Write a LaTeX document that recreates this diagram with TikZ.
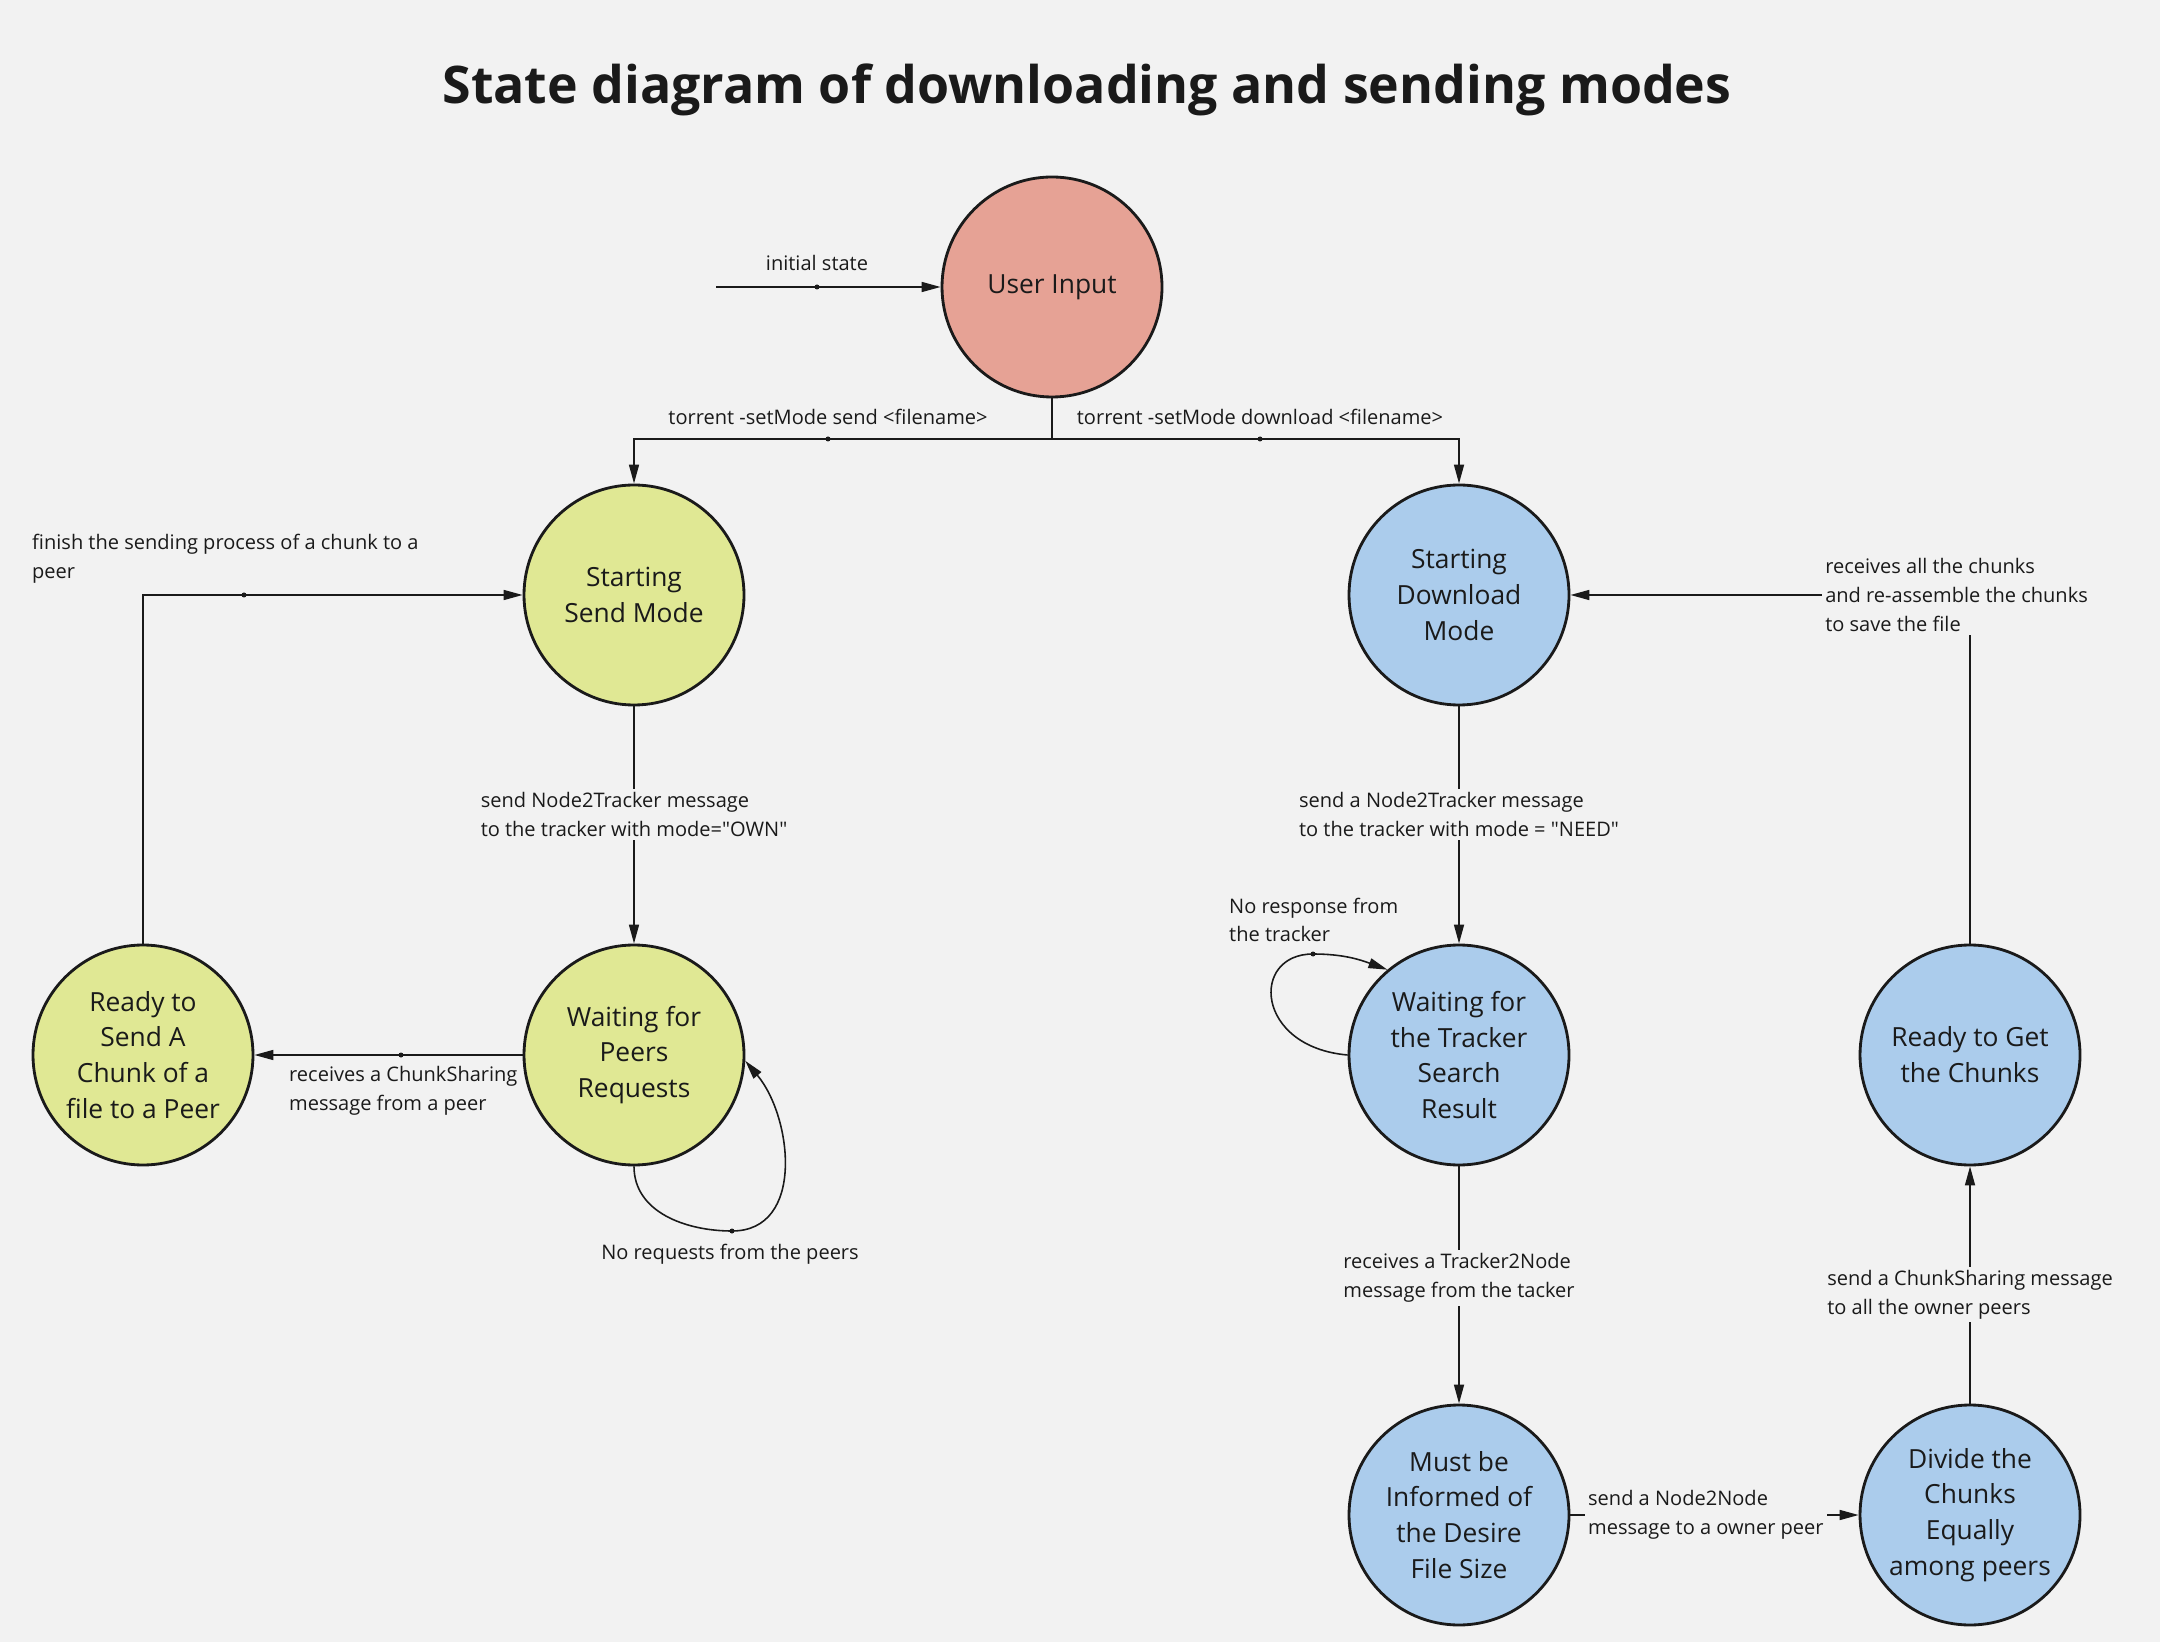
\documentclass[tikz,border=0pt]{standalone}
\usepackage{fontspec}
\setmainfont{Open Sans}
\usetikzlibrary{arrows.meta}

\definecolor{bg}{HTML}{F2F2F2}
\definecolor{ink}{HTML}{1A1A1A}
\definecolor{userfill}{HTML}{E6A295}
\definecolor{sendfill}{HTML}{E0E894}
\definecolor{downfill}{HTML}{ABCCEC}

\tikzstyle{state} = [circle, draw=ink, line width=0.8pt, text=ink,
    minimum size=2.2cm, inner sep=0pt, align=center,
    font=\fontsize{7.5}{10.2}\selectfont]
\tikzstyle{stuser} = [state, fill=userfill]
\tikzstyle{stsend} = [state, fill=sendfill]
\tikzstyle{stdown} = [state, fill=downfill]
\tikzstyle{lbl} = [text=ink, align=left, inner sep=1pt,
    font=\fontsize{5.7}{8.2}\selectfont]
\tikzstyle{cut} = [lbl, fill=bg]
\tikzstyle{dot} = [circle, fill=ink, inner sep=0pt, minimum size=0.5mm]
\tikzstyle{line} = [draw=ink, line width=0.45pt]
\tikzstyle{arr} = [line, -{Triangle[length=1.9mm,width=1mm]}]
\tikzstyle{title} = [text=ink, font=\fontsize{14.75}{18}\selectfont\bfseries]

\begin{document}
\begin{tikzpicture}
	\fill [bg] (0,0) rectangle (21.6,16.42);
	\useasboundingbox (0,0) rectangle (21.6,16.42);
	\node [title] (title) at (10.87,15.52) {State diagram of downloading and sending modes};
	%
	\node [stuser] (user) at (10.52,13.55) {User Input};
	\node [stsend] (sendm) at (6.34,10.47) {Starting\\Send Mode};
	\node [stdown] (downm) at (14.59,10.47) {Starting\\Download\\Mode};
	%
	\node [stsend] (readysend) at (1.43,5.87) {Ready to\\Send A\\Chunk of a\\file to a Peer};
	\node [stsend] (waitpeers) at (6.34,5.87) {Waiting for\\Peers\\Requests};
	\node [stdown] (waittracker) at (14.59,5.87) {Waiting for\\the Tracker\\Search\\Result};
	\node [stdown] (readyget) at (19.70,5.87) {Ready to Get\\the Chunks};
	%
	\node [stdown] (informed) at (14.59,1.27) {Must be\\Informed of\\the Desire\\File Size};
	\node [stdown] (divide) at (19.70,1.27) {Divide the\\Chunks\\Equally\\among peers};
	%
	\coordinate (start) at (7.16,13.55);
	\node [dot] (dinit) at (8.17,13.55) {};
	\node [dot] (dsend) at (8.28,12.03) {};
	\node [dot] (ddown) at (12.60,12.03) {};
	\node [dot] (dfinish) at (2.44,10.47) {};
	\node [dot] (dchunk) at (4.01,5.87) {};
	\node [dot] (dpeers) at (7.32,4.11) {};
	\node [dot] (dtracker) at (13.13,6.88) {};
	%
	\draw [arr] (start) -- (dinit.center) -- (user.west);
	\draw [arr] (user.south) |- (dsend.center) -| (sendm.north);
	\draw [arr] (user.south) |- (ddown.center) -| (downm.north);
	\draw [arr] (readysend.north) |- (dfinish.center) -- (sendm.west);
	\draw [arr] (waitpeers.west) -- (dchunk.center) -- (readysend.east);
	\draw [arr] (waitpeers.south) to [out=-90,in=180] (dpeers.center)
		to [out=0,in=-50,looseness=1.1] (waitpeers.-3);
	\draw [arr] (waittracker.west) .. controls (12.55,5.95) and (12.5,6.88) .. (dtracker.center)
		to [out=0,in=160] (waittracker.130);
	\draw [arr] (readyget.north) |- (downm.east);
	%
	\draw [arr] (sendm) -- node [cut, pos=0.456] (lown) {send Node2Tracker message\\to the tracker with mode=\textquotedbl OWN\textquotedbl} (waitpeers);
	\draw [arr] (downm) -- node [cut, pos=0.456] (lneed) {send a Node2Tracker message\\to the tracker with mode = \textquotedbl NEED\textquotedbl} (waittracker);
	\draw [arr] (waittracker) -- node [cut, pos=0.47] (lt2n) {receives a Tracker2Node\\message from the tacker} (informed);
	\draw [arr] (informed) -- node [cut, pos=0.47] (ln2n) {send a Node2Node\\message to a owner peer} (divide);
	\draw [arr] (divide) -- node [cut, pos=0.46] (lshare) {send a ChunkSharing message\\to all the owner peers} (readyget);
	%
	\node [lbl] (linit) at (8.17,13.79) {initial state};
	\node [lbl] (lsend) at (8.28,12.25) {torrent -setMode send <filename>};
	\node [lbl] (ldown) at (12.60,12.25) {torrent -setMode download <filename>};
	\node [lbl, anchor=west] (lfinish) at (0.28,10.835) {finish the sending process of a chunk to a\\peer};
	\node [lbl, anchor=west] (lchunk) at (2.85,5.515) {receives a ChunkSharing\\message from a peer};
	\node [lbl] (lnoreq) at (7.30,3.88) {No requests from the peers};
	\node [lbl, anchor=west] (lnoresp) at (12.25,7.22) {No response from\\the tracker};
	\node [cut, anchor=west] (lget) at (18.21,10.47) {receives all the chunks\\and re-assemble the chunks\\to save the file};
\end{tikzpicture}
\end{document}
